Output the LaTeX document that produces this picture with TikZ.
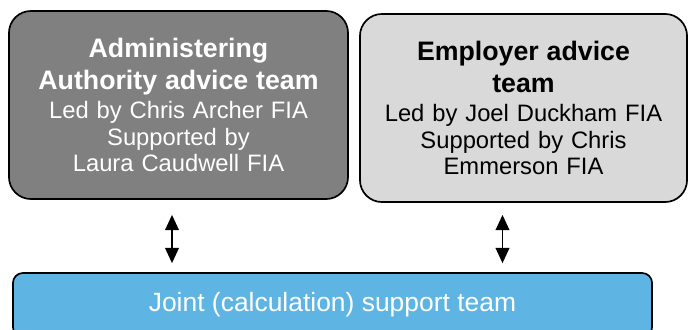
\documentclass[tikz,border=0pt]{standalone}
\usepackage{fontspec}
\setmainfont{Liberation Sans}
\usetikzlibrary{arrows.meta}
\definecolor{teamdark}{HTML}{808080}
\definecolor{teamlight}{HTML}{D9D9D9}
\definecolor{teamblue}{HTML}{5EB5E3}
\tikzset{
  team/.style={draw=black, line width=1.2pt, rounded corners=0.55cm, align=center, inner sep=2pt},
  dbl/.style={{Triangle[length=0.38cm,width=0.34cm]}-{Triangle[length=0.38cm,width=0.34cm]}, line width=1.3pt, black},
}
\newcommand{\teamhead}{\fontsize{19}{22.8}\selectfont\bfseries}
\newcommand{\teambody}{\fontsize{16.9}{19}\selectfont}

\begin{document}
\begin{tikzpicture}[x=0.025cm, y=-0.025cm]
  \useasboundingbox (0,0) rectangle (689,329);
  % two advice teams on top
  \node[team, fill=teamdark, text=white, minimum width=8.475cm, minimum height=4.7cm, text width=8.2cm, font=\teambody] (admin) at (178.5,105)
    {{\teamhead Administering\\ Authority advice team\par}\vspace{1.5pt}
     Led by Chris Archer FIA\\ Supported by\\ Laura Caudwell FIA\par};
  \node[team, fill=teamlight, minimum width=8.175cm, minimum height=4.7cm, text width=7.9cm, font=\teambody] (employer) at (523.5,108)
    {{\teamhead Employer advice\\ team\par}\vspace{1.5pt}
     Led by Joel Duckham FIA\\ Supported by Chris\\ Emmerson FIA\par};
  % shared team underneath
  \node[team, rounded corners=0.25cm, fill=teamblue, text=white, minimum width=15.975cm, minimum height=1.6cm, font=\fontsize{18.8}{22}\selectfont] (joint) at (332.5,305)
    {Joint (calculation) support team};
  \coordinate (xl) at (172,0);
  \coordinate (xr) at (502.5,0);
  \draw[dbl] ([yshift=-0.375cm]admin.south -| xl) -- ([yshift=0.225cm]joint.north -| xl);
  \draw[dbl] ([yshift=-0.3cm]employer.south -| xr) -- ([yshift=0.225cm]joint.north -| xr);
\end{tikzpicture}
\end{document}
